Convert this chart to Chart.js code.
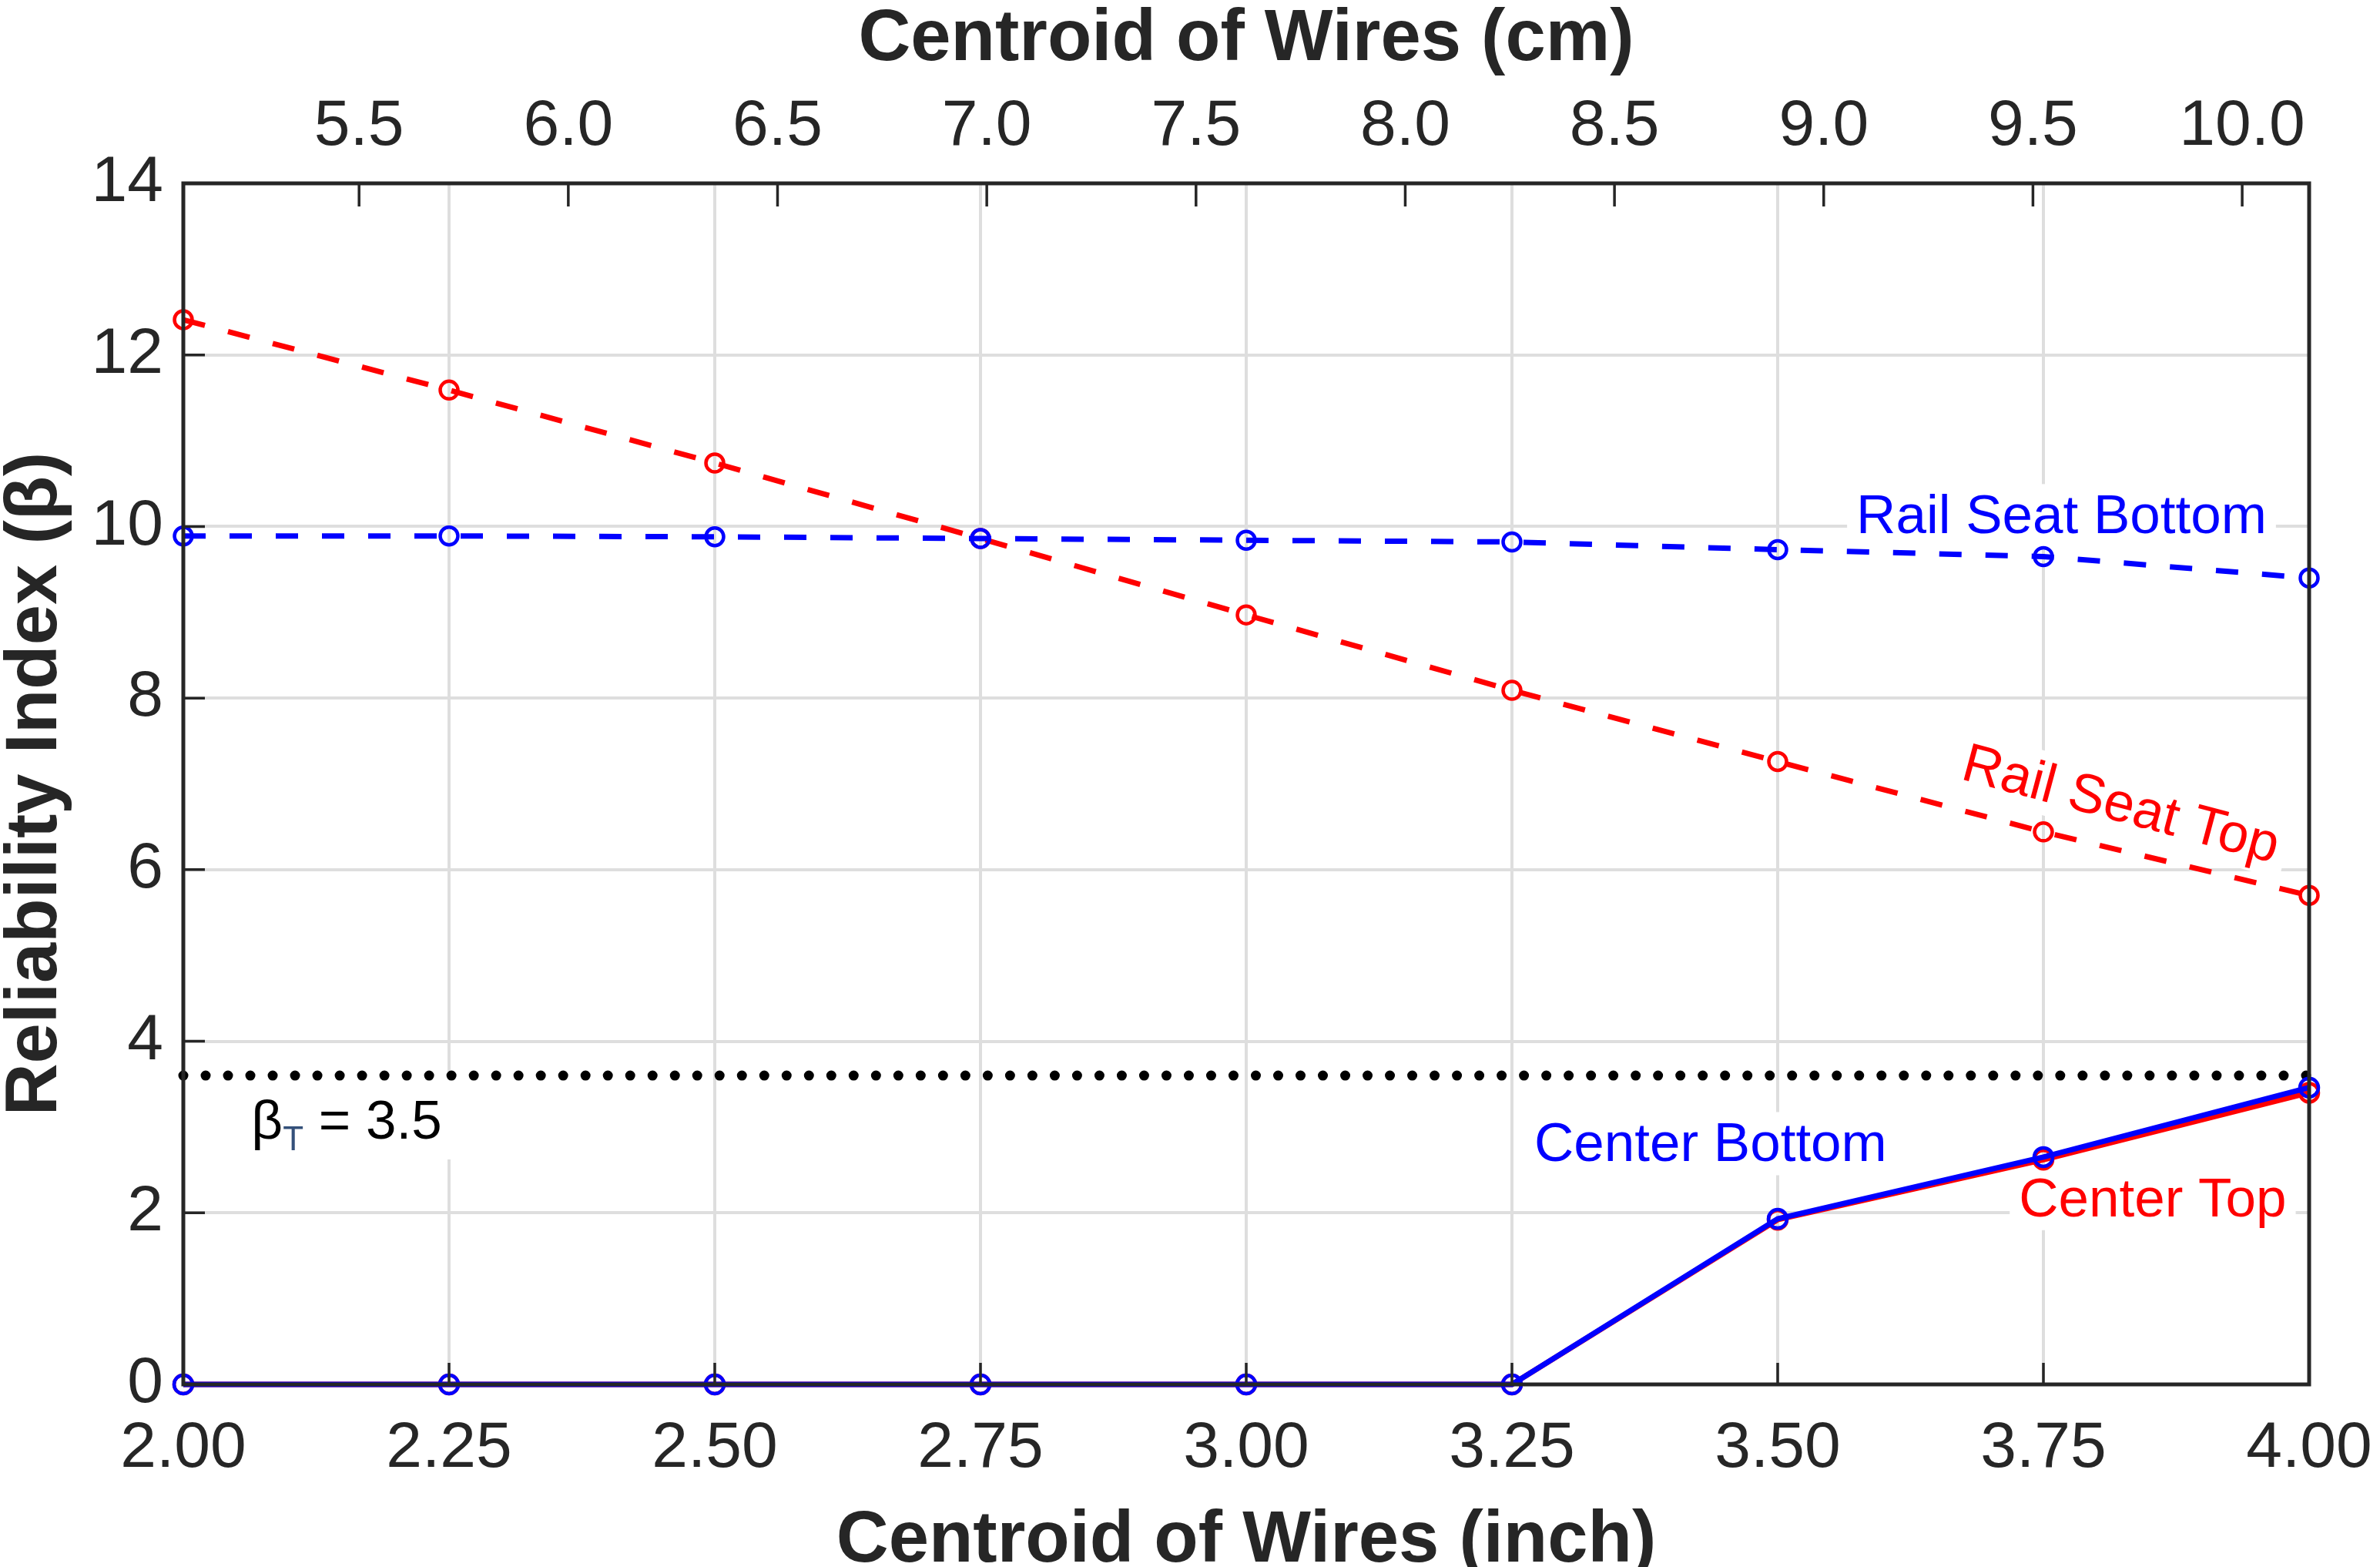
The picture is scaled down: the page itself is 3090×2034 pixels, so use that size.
<!DOCTYPE html>
<html>
<head>
<meta charset="utf-8">
<script src="https://cdn.jsdelivr.net/npm/chart.js@4.4.1/dist/chart.umd.min.js"></script>
<style>
html,body{margin:0;padding:0;background:#fff;overflow:hidden}
#wrap{width:3090px;height:2034px;overflow:hidden;background:#fff}
canvas{display:block}
</style>
</head>
<body>
<div id="wrap"><canvas id="c" width="3090" height="2034" style="width:3090px;height:2034px"></canvas></div>
<script>
// ---- data ----
const inchValues     = [2.00, 2.25, 2.50, 2.75, 3.00, 3.25, 3.50, 3.75, 4.00];
const railSeatTop    = [12.41, 11.59, 10.74, 9.86, 8.97, 8.09, 7.26, 6.44, 5.70];
const railSeatBottom = [9.89, 9.89, 9.88, 9.86, 9.84, 9.82, 9.73, 9.65, 9.40];
const centerTop      = [0, 0, 0, 0, 0, 0, 1.92, 2.62, 3.40];
const centerBottom   = [0, 0, 0, 0, 0, 0, 1.93, 2.65, 3.46];
const targetX        = [2.00, 4.00];
const targetY        = [3.6, 3.6];

const inchTicks = [2.00, 2.25, 2.50, 2.75, 3.00, 3.25, 3.50, 3.75, 4.00];
const cmTicks   = [5.5, 6.0, 6.5, 7.0, 7.5, 8.0, 8.5, 9.0, 9.5, 10.0];
const yTicks    = [0, 2, 4, 6, 8, 10, 12, 14];
const CM_PER_INCH = 2.54;

// ---- styling ----
const FONT = '"Liberation Sans", Arial, Helvetica, sans-serif';
const AXIS_COLOR = '#262626';
const GRID_COLOR = '#dedede';
const BLUE = '#0000ff';
const RED = '#ff0000';

const pts = (xs, ys) => xs.map((x, i) => ({x: x, y: ys[i]}));

// text annotations (anchored in data coordinates)
const annotations = [
  {text: 'Rail Seat Bottom', x: 3.574, y: 9.92, color: BLUE, angle: 0},
  {text: 'Rail Seat Top',    x: 3.671, y: 7.06, color: RED,  angle: 15},
  {text: 'Center Bottom',    x: 3.271, y: 2.60, color: BLUE, angle: 0},
  {text: 'Center Top',       x: 3.727, y: 1.96, color: RED,  angle: 0}
];
const betaLabel = {x: 2.064, y: 2.865};

function labelBox(ctx, left, width, top, bottom) {
  ctx.fillStyle = '#ffffff';
  ctx.fillRect(left, top, width, bottom - top);
}

const annotationPlugin = {
  id: 'annotationPlugin',
  beforeDatasetsDraw(chart) {
    const ctx = chart.ctx, xs = chart.scales.x, ys = chart.scales.y;
    ctx.save();
    ctx.font = '71px ' + FONT;
    annotations.forEach(a => {
      const w = ctx.measureText(a.text).width;
      ctx.save();
      ctx.translate(xs.getPixelForValue(a.x), ys.getPixelForValue(a.y));
      ctx.rotate(a.angle * Math.PI / 180);
      labelBox(ctx, -12, w + 24, -64, 18);
      ctx.restore();
    });
    const bx = xs.getPixelForValue(betaLabel.x), by = ys.getPixelForValue(betaLabel.y);
    labelBox(ctx, bx - 10, 270, by - 84, by + 27);
    ctx.restore();
  },
  afterDatasetsDraw(chart) {
    const ctx = chart.ctx, xs = chart.scales.x, ys = chart.scales.y, x2 = chart.scales.x2;
    const area = chart.chartArea;
    ctx.save();
    // inward tick marks
    ctx.strokeStyle = AXIS_COLOR;
    ctx.lineWidth = 3.5;
    ctx.beginPath();
    ys.ticks.forEach(t => {
      const p = ys.getPixelForValue(t.value);
      ctx.moveTo(area.left, p); ctx.lineTo(area.left + 28, p);
    });
    xs.ticks.forEach(t => {
      const p = xs.getPixelForValue(t.value);
      ctx.moveTo(p, area.bottom); ctx.lineTo(p, area.bottom - 28);
    });
    x2.ticks.forEach(t => {
      const p = x2.getPixelForValue(t.value);
      ctx.moveTo(p, area.top); ctx.lineTo(p, area.top + 30);
    });
    ctx.stroke();
    // axes box
    ctx.lineWidth = 5;
    ctx.strokeRect(area.left, area.top, area.right - area.left, area.bottom - area.top);

    // annotation texts
    ctx.textBaseline = 'alphabetic';
    ctx.textAlign = 'left';
    ctx.font = '71px ' + FONT;
    annotations.forEach(a => {
      ctx.save();
      ctx.translate(xs.getPixelForValue(a.x), ys.getPixelForValue(a.y));
      ctx.rotate(a.angle * Math.PI / 180);
      ctx.fillStyle = a.color;
      ctx.fillText(a.text, 0, 0);
      ctx.restore();
    });
    // beta_T = 3.5
    let bx = xs.getPixelForValue(betaLabel.x);
    const by = ys.getPixelForValue(betaLabel.y);
    ctx.fillStyle = '#000000';
    ctx.font = '71px ' + FONT;
    ctx.fillText('\u03B2', bx, by);
    bx += ctx.measureText('\u03B2').width;
    ctx.font = '44px ' + FONT;
    ctx.fillStyle = '#34507a';
    ctx.fillText('T', bx, by + 15);
    bx += ctx.measureText('T').width;
    ctx.font = '71px ' + FONT;
    ctx.fillStyle = '#000000';
    ctx.fillText(' = 3.5', bx, by);
    ctx.restore();
  }
};

const lineCommon = {
  showLine: true,
  fill: false,
  tension: 0,
  clip: false,
  pointStyle: 'circle',
  pointBackgroundColor: 'rgba(0,0,0,0)',
  pointHoverRadius: 12
};

const noSidePadding = s => { s.paddingLeft = 0; s.paddingRight = 0; };

new Chart(document.getElementById('c'), {
  type: 'scatter',
  data: {
    datasets: [
      Object.assign({}, lineCommon, {
        label: 'Center Bottom',
        data: pts(inchValues, centerBottom),
        borderColor: BLUE, pointBorderColor: BLUE,
        borderWidth: 7, pointRadius: 12, pointBorderWidth: 4.5, order: 1
      }),
      Object.assign({}, lineCommon, {
        label: 'Center Top',
        data: pts(inchValues, centerTop),
        borderColor: RED, pointBorderColor: RED,
        borderWidth: 7, pointRadius: 12, pointBorderWidth: 4.5, order: 2
      }),
      Object.assign({}, lineCommon, {
        label: 'Rail Seat Bottom',
        data: pts(inchValues, railSeatBottom),
        borderColor: BLUE, pointBorderColor: BLUE,
        borderWidth: 7, borderDash: [29, 31], pointRadius: 11.5, pointBorderWidth: 4.5, order: 3
      }),
      Object.assign({}, lineCommon, {
        label: 'Rail Seat Top',
        data: pts(inchValues, railSeatTop),
        borderColor: RED, pointBorderColor: RED,
        borderWidth: 7, borderDash: [29, 31], pointRadius: 11.5, pointBorderWidth: 4.5, order: 4
      }),
      Object.assign({}, lineCommon, {
        label: 'Target',
        data: pts(targetX, targetY),
        borderColor: '#000000',
        borderWidth: 13, borderDash: [0.01, 29], borderCapStyle: 'round',
        pointRadius: 0, order: 5
      })
    ]
  },
  options: {
    responsive: false,
    devicePixelRatio: 1,
    animation: false,
    layout: {padding: {left: 0, right: 92, top: 0, bottom: 0}},
    plugins: {legend: {display: false}, tooltip: {enabled: false}},
    scales: {
      x: {
        type: 'linear', position: 'bottom', min: 2, max: 4,
        afterBuildTicks: s => { s.ticks = inchTicks.map(v => ({value: v})); },
        afterFit: s => { s.height = 237; noSidePadding(s); },
        ticks: {
          autoSkip: false, maxRotation: 0, padding: 42, color: AXIS_COLOR,
          font: {family: FONT, size: 84, lineHeight: 1},
          callback: v => Number(v).toFixed(2)
        },
        grid: {color: GRID_COLOR, lineWidth: 4, drawTicks: false},
        border: {display: false},
        title: {
          display: true, text: 'Centroid of Wires (inch)', color: AXIS_COLOR,
          font: {family: FONT, size: 94, weight: 'bold', lineHeight: 0.7},
          padding: {top: 0, bottom: 0}
        }
      },
      x2: {
        type: 'linear', position: 'top', min: 2 * CM_PER_INCH, max: 4 * CM_PER_INCH,
        afterBuildTicks: s => { s.ticks = cmTicks.map(v => ({value: v})); },
        afterFit: s => { s.height = 238; noSidePadding(s); },
        ticks: {
          autoSkip: false, maxRotation: 0, padding: 31, color: AXIS_COLOR,
          font: {family: FONT, size: 84, lineHeight: 1},
          callback: v => Number(v).toFixed(1)
        },
        grid: {display: false, drawTicks: false},
        border: {display: false},
        title: {
          display: true, text: 'Centroid of Wires (cm)', color: AXIS_COLOR,
          font: {family: FONT, size: 94, weight: 'bold', lineHeight: 0.88},
          padding: {top: 11, bottom: 0}
        }
      },
      y: {
        type: 'linear', position: 'left', min: 0, max: 14,
        afterBuildTicks: s => { s.ticks = yTicks.map(v => ({value: v})); },
        afterFit: s => { s.width = 238; s.paddingTop = 0; s.paddingBottom = 0; },
        ticks: {
          padding: 26, color: AXIS_COLOR,
          font: {family: FONT, size: 84, lineHeight: 1},
          callback: v => String(v)
        },
        grid: {color: GRID_COLOR, lineWidth: 4, drawTicks: false},
        border: {display: false},
        title: {
          display: true, text: 'Reliability Index (\u03B2)', color: AXIS_COLOR,
          font: {family: FONT, size: 94, weight: 'bold', lineHeight: 0.88},
          padding: {top: 6, bottom: 0}
        }
      }
    }
  },
  plugins: [annotationPlugin]
});
</script>
</body>
</html>
